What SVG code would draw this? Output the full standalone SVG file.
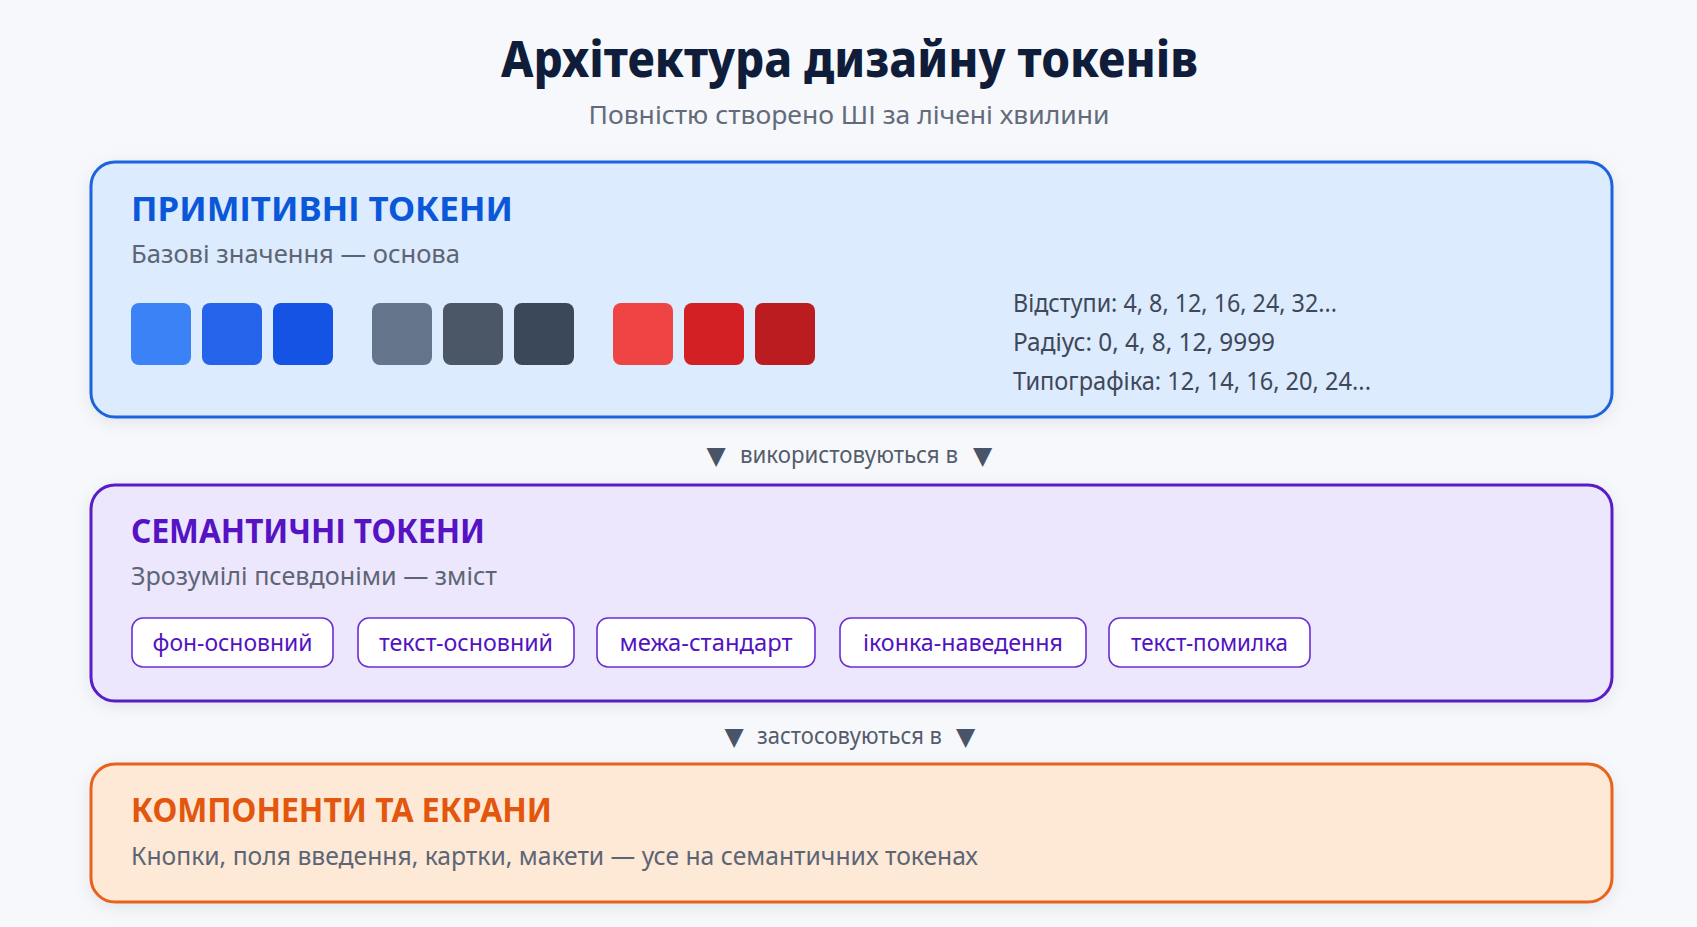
<svg xmlns="http://www.w3.org/2000/svg" width="1697" height="927" viewBox="0 0 1697 927">
  <defs>
    <filter id="shadow" x="-5%" y="-10%" width="110%" height="130%">
      <feDropShadow dx="0" dy="4" stdDeviation="8" flood-color="#1e293b" flood-opacity="0.08"/>
    </filter>
    <style>
      text { font-family: "Noto Sans", "Open Sans", "DejaVu Sans", sans-serif; }
      .title { font-size: 49px; font-weight: 800; fill: #0f1d3a; text-anchor: middle; }
      .subtitle { font-size: 25px; fill: #636b7b; text-anchor: middle; }
      .heading { font-size: 34px; font-weight: 700; }
      .desc { font-size: 25px; fill: #5d6575; }
      .spec { font-size: 24.5px; fill: #3e4859; }
      .flow { font-size: 23px; fill: #545c6c; }
      .tri { font-size: 25px; fill: #4a5468; text-anchor: middle; }
      .pill rect { fill: #ffffff; stroke: #6a2fd6; stroke-width: 1.6; }
      .pill text { font-size: 23px; fill: #5213c2; text-anchor: middle; }
      .swatch { rx: 8; ry: 8; }
    </style>
  </defs>

  <rect x="0" y="0" width="1697" height="927" fill="#f6f8fb"/>

  <g id="header">
    <text class="title" x="849.5" y="77" textLength="697" lengthAdjust="spacingAndGlyphs">Архітектура дизайну токенів</text>
    <text class="subtitle" x="849" y="124" textLength="521" lengthAdjust="spacingAndGlyphs">Повністю створено ШІ за лічені хвилини</text>
  </g>

  <g id="primitive-tokens">
    <rect x="91" y="162" width="1521" height="255" rx="24" ry="24" fill="#dcebfd" stroke="#1d63dd" stroke-width="3" filter="url(#shadow)"/>
    <text class="heading" x="131" y="221" fill="#0a57da" textLength="382" lengthAdjust="spacingAndGlyphs">ПРИМІТИВНІ ТОКЕНИ</text>
    <text class="desc" x="131" y="263" textLength="329" lengthAdjust="spacingAndGlyphs">Базові значення — основа</text>
    <rect class="swatch" x="131" y="303" width="60" height="62" fill="#3b82f6"/>
    <rect class="swatch" x="202" y="303" width="60" height="62" fill="#2563eb"/>
    <rect class="swatch" x="273" y="303" width="60" height="62" fill="#1553e4"/>
    <rect class="swatch" x="372" y="303" width="60" height="62" fill="#64748b"/>
    <rect class="swatch" x="443" y="303" width="60" height="62" fill="#4b5667"/>
    <rect class="swatch" x="514" y="303" width="60" height="62" fill="#3b4859"/>
    <rect class="swatch" x="613" y="303" width="60" height="62" fill="#ef4444"/>
    <rect class="swatch" x="684" y="303" width="60" height="62" fill="#d32025"/>
    <rect class="swatch" x="755" y="303" width="60" height="62" fill="#bb1c1f"/>
    <text class="spec" x="1013" y="312" textLength="324" lengthAdjust="spacingAndGlyphs">Відступи: 4, 8, 12, 16, 24, 32...</text>
    <text class="spec" x="1013" y="351" textLength="262" lengthAdjust="spacingAndGlyphs">Радіус: 0, 4, 8, 12, 9999</text>
    <text class="spec" x="1013" y="390" textLength="358" lengthAdjust="spacingAndGlyphs">Типографіка: 12, 14, 16, 20, 24...</text>
  </g>

  <g id="connectors">
    <text class="tri" x="716" y="464">▼</text>
    <text class="flow" x="740" y="463" textLength="218" lengthAdjust="spacingAndGlyphs">використовуються в</text>
    <text class="tri" x="982.5" y="464">▼</text>
    <text class="tri" x="734" y="745">▼</text>
    <text class="flow" x="757" y="744" textLength="185" lengthAdjust="spacingAndGlyphs">застосовуються в</text>
    <text class="tri" x="965.5" y="745">▼</text>
  </g>

  <g id="semantic-tokens">
    <rect x="91" y="485" width="1521" height="216" rx="24" ry="24" fill="#ede7fd" stroke="#5a1ec6" stroke-width="3" filter="url(#shadow)"/>
    <text class="heading" x="131" y="543" fill="#5513c4" textLength="354" lengthAdjust="spacingAndGlyphs">СЕМАНТИЧНІ ТОКЕНИ</text>
    <text class="desc" x="131" y="585" textLength="366" lengthAdjust="spacingAndGlyphs">Зрозумілі псевдоніми — зміст</text>
    <g class="pill" id="pill-bg-primary">
      <rect x="132" y="618" width="201" height="49" rx="11" ry="11"/>
      <text x="232.5" y="651" textLength="160" lengthAdjust="spacingAndGlyphs">фон-основний</text>
    </g>
    <g class="pill" id="pill-text-primary">
      <rect x="358" y="618" width="216" height="49" rx="11" ry="11"/>
      <text x="466" y="651" textLength="174" lengthAdjust="spacingAndGlyphs">текст-основний</text>
    </g>
    <g class="pill" id="pill-border-default">
      <rect x="597" y="618" width="218" height="49" rx="11" ry="11"/>
      <text x="706" y="651" textLength="173" lengthAdjust="spacingAndGlyphs">межа-стандарт</text>
    </g>
    <g class="pill" id="pill-icon-hover">
      <rect x="840" y="618" width="246" height="49" rx="11" ry="11"/>
      <text x="963" y="651" textLength="200" lengthAdjust="spacingAndGlyphs">іконка-наведення</text>
    </g>
    <g class="pill" id="pill-text-error">
      <rect x="1109" y="618" width="201" height="49" rx="11" ry="11"/>
      <text x="1209.5" y="651" textLength="157" lengthAdjust="spacingAndGlyphs">текст-помилка</text>
    </g>
  </g>

  <g id="components">
    <rect x="91" y="764" width="1521" height="138" rx="24" ry="24" fill="#fde9d6" stroke="#e8621a" stroke-width="3" filter="url(#shadow)"/>
    <text class="heading" x="131" y="822" fill="#e2560e" textLength="421" lengthAdjust="spacingAndGlyphs">КОМПОНЕНТИ ТА ЕКРАНИ</text>
    <text class="desc" x="131" y="865" textLength="847" lengthAdjust="spacingAndGlyphs">Кнопки, поля введення, картки, макети — усе на семантичних токенах</text>
  </g>
</svg>
